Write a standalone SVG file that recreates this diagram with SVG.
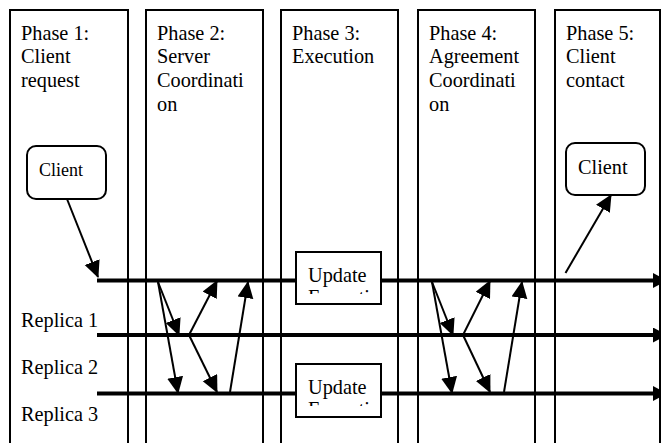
<svg xmlns="http://www.w3.org/2000/svg" width="661" height="443" viewBox="0 0 661 443">
<style>
text{font-family:"Liberation Serif","Times New Roman",serif;font-size:20.3px;fill:#000}
.panel,.box{fill:#fff;stroke:#000;stroke-width:2}
.thin{fill:none;stroke:#000;stroke-width:2;marker-end:url(#a)}
.bus{fill:none;stroke:#000;stroke-width:4}
.end{marker-end:url(#b)}
</style>
<defs>
<marker id="a" markerUnits="userSpaceOnUse" markerWidth="19" markerHeight="17" refX="16" refY="8" orient="auto"><path d="M0 0L17 8L0 16z" fill="#000"/></marker>
<marker id="b" markerUnits="userSpaceOnUse" markerWidth="16" markerHeight="17" refX="8" refY="7.500" orient="auto"><path d="M0 0L14 7.500L0 15z" fill="#000"/></marker>
<clipPath id="c1"><rect x="297" y="253" width="83" height="41"/></clipPath>
<clipPath id="c2"><rect x="297" y="365" width="83" height="41"/></clipPath>
</defs>
<rect width="661" height="443" fill="#fff"/>
<g id="phase1"><rect class="panel" x="10" y="10" width="118" height="440"/><text x="21" y="40">Phase 1:</text><text x="21" y="63">Client</text><text x="21" y="87">request</text></g>
<g id="phase2"><rect class="panel" x="146" y="10" width="117" height="440"/><text x="157" y="40">Phase 2:</text><text x="157" y="63">Server</text><text x="157" y="87">Coordinati</text><text x="157" y="111">on</text></g>
<g id="phase3"><rect class="panel" x="281" y="10" width="117" height="440"/><text x="292" y="40">Phase 3:</text><text x="292" y="63">Execution</text></g>
<g id="phase4"><rect class="panel" x="418" y="10" width="117" height="440"/><text x="429" y="40">Phase 4:</text><text x="429" y="63">Agreement</text><text x="429" y="87">Coordinati</text><text x="429" y="111">on</text></g>
<g id="phase5"><rect class="panel" x="555" y="10" width="105" height="440"/><text x="566" y="40">Phase 5:</text><text x="566" y="63">Client</text><text x="566" y="87">contact</text></g>
<g id="client1"><rect class="box" x="27" y="146" width="79" height="53" rx="9"/><text x="39" y="176" style="font-size:18px">Client</text></g>
<g id="client2"><rect class="box" x="566" y="143" width="79" height="52" rx="9"/><text x="578" y="174">Client</text></g>
<g id="replica1"><text x="21" y="327">Replica 1</text></g>
<g id="replica2"><text x="21" y="374">Replica 2</text></g>
<g id="replica3"><text x="21" y="421">Replica 3</text></g>
<g id="connectors">
<path class="bus" d="M97 280.500H296"/>
<path class="bus end" d="M381 280.500H661"/>
<path class="bus end" d="M97 335H661"/>
<path class="bus" d="M97 393.500H296"/>
<path class="bus end" d="M381 393.500H661"/>
<path class="thin" d="M67 199L98 277"/>
<path class="thin" d="M565.500 273L611 195"/>
<path class="thin" d="M158 282L179 335"/>
<path class="thin" d="M158 282L178 393"/>
<path class="thin" d="M189 335L217 281"/>
<path class="thin" d="M189 335L217 392"/>
<path class="thin" d="M230 392L248 282"/>
<path class="thin" d="M432 282L453 335"/>
<path class="thin" d="M432 282L452 393"/>
<path class="thin" d="M463 335L490 281"/>
<path class="thin" d="M463 335L490 392"/>
<path class="thin" d="M504 392L522 282"/>
</g>
<g id="update1"><rect class="box" x="296" y="252" width="85" height="52"/><g clip-path="url(#c1)"><text x="308" y="282">Update</text><text x="308" y="304">Execution</text></g></g>
<g id="update2"><rect class="box" x="296" y="364" width="85" height="53"/><g clip-path="url(#c2)"><text x="308" y="394">Update</text><text x="308" y="416">Execution</text></g></g>
</svg>
